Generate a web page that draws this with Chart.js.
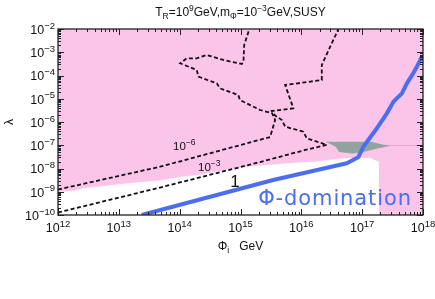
<!DOCTYPE html>
<html>
<head>
<meta charset="utf-8">
<script src="https://cdn.jsdelivr.net/npm/chart.js@4.4.0/dist/chart.umd.min.js"></script>
<style>
  html, body { margin: 0; padding: 0; background: #fff; }
  canvas { display: block; }
</style>
</head>
<body>
<canvas id="chart" width="435" height="299"></canvas>
<script>
'use strict';

// ── axes: decades of Φi (GeV) and λ
const phiDecades = [1e12, 1e13, 1e14, 1e15, 1e16, 1e17, 1e18];
const phiExp     = ['12', '13', '14', '15', '16', '17', '18'];
const lamDecades = [1e-10, 1e-9, 1e-8, 1e-7, 1e-6, 1e-5, 1e-4, 1e-3, 1e-2];
const lamExp     = ['−10', '−9', '−8', '−7', '−6', '−5', '−4', '−3', '−2'];

// ── Φ-domination boundary (blue)
const domPhi = [2.38e13, 3.44e15, 5.6e16, 8.6e16, 1.05e17, 1.26e17, 1.75e17, 2.55e17, 3.27e17, 4.5e17, 5.43e17, 6.9e17, 7.95e17, 9.6e17];
const domLam = [1e-10, 3.2e-9, 1.67e-8, 3.03e-8, 8.7e-8, 1.68e-7, 5.4e-7, 2.37e-6, 7.5e-6, 1.71e-5, 4.6e-5, 1.24e-4, 2.4e-4, 6.4e-4];

// ── contour 10^-6 (dashed)
const c6Phi = [1e12, 4.76e13, 3.07e15, 3.71e15, 3.31e15, 2.1e15, 9.8e14, 9.2e14, 4.6e14, 4.07e14, 2.03e14, 1.91e14, 1.02e14, 1.31e14, 1.91e14, 2.79e14, 5.24e14, 1.05e15, 1.12e15, 1.15e15, 1.4e15];
const c6Lam = [1.25e-9, 1.19e-8, 2.26e-7, 1.22e-6, 2.37e-6, 3.28e-6, 8.8e-6, 1.45e-5, 2.8e-5, 4.6e-5, 8.9e-5, 1.72e-4, 3.35e-4, 5.5e-4, 5.5e-4, 7.6e-4, 4.65e-4, 3.13e-4, 3.9e-4, 2.05e-3, 1e-2];

// ── contour 10^-3 (dashed)
const c3Phi = [1e12, 4.76e13, 2.1e15, 1.16e16, 2.62e16, 1.23e16, 1.08e16, 5.42e15, 4.78e15, 3.71e15, 3.27e15, 7.4e15, 5.42e15, 2.17e16, 2.17e16, 2.98e16, 4.07e16];
const c3Lam = [1.28e-10, 1.52e-9, 1.9e-8, 6.25e-8, 1.03e-7, 1.99e-7, 3.83e-7, 6.3e-7, 1.22e-6, 1.9e-6, 2.97e-6, 3.88e-6, 3.9e-5, 6.4e-5, 2.83e-4, 1.73e-3, 1e-2];

// ── allowed (white) region, upper edge
const whitePhi = [1e12, 1.9e12, 2.6e12, 4.9e12, 1.53e13, 4.76e13, 1.14e14, 2.17e14, 6.75e14, 1.44e15, 3.07e15, 6.55e15, 1.8e16, 2.98e16, 5.6e16, 1.35e17, 1.85e17, 1.85e17];
const whiteLam = [9.75e-10, 1.08e-9, 1.38e-9, 1.65e-9, 2.3e-9, 2.98e-9, 4.4e-9, 5.25e-9, 9.2e-9, 1.19e-8, 1.41e-8, 1.67e-8, 1.96e-8, 2.32e-8, 2.75e-8, 2.75e-8, 1.96e-8, 1e-10];

// ── gray patch: top and bottom edges
const grayTopPhi = [2.56e16, 1.41e17, 2.13e17, 2.89e17];
const grayTopLam = [1.42e-7, 1.42e-7, 1.08e-7, 9.75e-8];
const grayBotPhi = [2.56e16, 3.73e16, 4.19e16, 6.85e16, 1.0e17, 1.77e17, 2.89e17];
const grayBotLam = [1.42e-7, 8.7e-8, 5.3e-8, 4.5e-8, 5.13e-8, 7.4e-8, 9.75e-8];
const seamPhi = [2.89e17, 1e18];
const seamLam = [9.75e-8, 9.75e-8];

// ── in-plot labels (data coords)
const contourLabels = [
  { base: '10', exp: '−6', phi: 7.8e13, lam: 8.4e-8 },
  { base: '10', exp: '−3', phi: 2.0e14, lam: 1.05e-8 },
];

const PINK = '#fbc4e9';
const BLUE = '#4a6df2';
const SANS = '"Liberation Sans", Arial, sans-serif';

const pts = (xs, ys) => xs.map((x, i) => ({ x, y: ys[i] }));

function drawPow(ctx, base, exp, x, y, align, size, supSize, raise) {
  ctx.font = size + 'px ' + SANS;
  const wb = ctx.measureText(base).width;
  ctx.font = supSize + 'px ' + SANS;
  const we = ctx.measureText(exp).width;
  const left = align === 'right' ? x - wb - we : align === 'left' ? x : x - (wb + we) / 2;
  ctx.textAlign = 'left';
  ctx.textBaseline = 'middle';
  ctx.font = size + 'px ' + SANS;
  ctx.fillText(base, left, y);
  ctx.font = supSize + 'px ' + SANS;
  ctx.fillText(exp, left + wb, y - raise);
}

// rich text: segs = [[text, 'n'|'sup'|'sub'], ...]
function drawRich(ctx, segs, cx, y, size, small) {
  ctx.textAlign = 'left';
  ctx.textBaseline = 'alphabetic';
  let w = 0;
  segs.forEach(([t, k]) => { ctx.font = (k === 'n' ? size : small) + 'px ' + SANS; w += ctx.measureText(t).width; });
  let px = cx - w / 2;
  segs.forEach(([t, k]) => {
    ctx.font = (k === 'n' ? size : small) + 'px ' + SANS;
    const dy = k === 'sup' ? -5 : k === 'sub' ? 3 : 0;
    ctx.fillText(t, px, y + dy);
    px += ctx.measureText(t).width;
  });
}

const background = {
  id: 'background',
  beforeDraw(chart) {
    const { ctx, chartArea: a } = chart;
    ctx.save();
    ctx.fillStyle = '#fff';
    ctx.fillRect(0, 0, chart.width, chart.height);
    ctx.fillStyle = PINK;
    ctx.fillRect(a.left, a.top, a.right - a.left, a.bottom - a.top);
    ctx.restore();
  }
};

const frameAndText = {
  id: 'frameAndText',
  afterDraw(chart) {
    const { ctx, chartArea: a, scales: { x, y } } = chart;
    ctx.save();
    ctx.strokeStyle = '#222';
    ctx.fillStyle = '#111';
    ctx.lineWidth = 1;
    const seg = (x1, y1, x2, y2) => { ctx.beginPath(); ctx.moveTo(x1, y1); ctx.lineTo(x2, y2); ctx.stroke(); };

    // inward ticks on all four sides
    phiDecades.forEach(d => {
      for (let m = 1; m <= 9; m++) {
        const v = d * m;
        if (v > x.max * 1.0001) break;
        const px = Math.round(x.getPixelForValue(v)) + 0.5;
        const len = m === 1 ? 6 : 3;
        seg(px, a.bottom, px, a.bottom - len);
        seg(px, a.top, px, a.top + len);
      }
    });
    lamDecades.forEach(d => {
      for (let m = 1; m <= 9; m++) {
        const v = d * m;
        if (v > y.max * 1.0001) break;
        const py = Math.round(y.getPixelForValue(v)) + 0.5;
        const len = m === 1 ? 6 : 3;
        seg(a.left, py, a.left + len, py);
        seg(a.right, py, a.right - len, py);
      }
    });
    ctx.lineWidth = 1.3;
    ctx.strokeRect(a.left, a.top, a.right - a.left, a.bottom - a.top);

    // tick labels
    phiDecades.forEach((d, i) => {
      drawPow(ctx, '10', phiExp[i], x.getPixelForValue(d), a.bottom + 14, 'center', 12.5, 9.5, 4.5);
    });
    lamDecades.forEach((d, i) => {
      drawPow(ctx, '10', lamExp[i], a.left - 3, y.getPixelForValue(d) + 1.5, 'right', 12.5, 9.5, 4.5);
    });

    // titles
    drawRich(ctx, [['T', 'n'], ['R', 'sub'], ['=10', 'n'], ['9', 'sup'], ['GeV,m', 'n'], ['Φ', 'sub'], ['=10', 'n'], ['−3', 'sup'], ['GeV,SUSY', 'n']],
      (a.left + a.right) / 2, 16, 12, 8.5);
    drawRich(ctx, [['Φ', 'n'], ['i', 'sub'], ['   GeV', 'n']], (a.left + a.right) / 2, 250, 12, 8.5);
    ctx.save();
    ctx.translate(10, (a.top + a.bottom) / 2);
    ctx.rotate(-Math.PI / 2);
    ctx.font = '12px ' + SANS;
    ctx.textAlign = 'center';
    ctx.textBaseline = 'middle';
    ctx.fillText('λ', 0, 0);
    ctx.restore();

    // contour labels
    contourLabels.forEach(l => {
      drawPow(ctx, l.base, l.exp, x.getPixelForValue(l.phi), y.getPixelForValue(l.lam), 'left', 11.5, 8.5, 4.5);
    });
    ctx.font = '17px ' + SANS;
    ctx.textAlign = 'center';
    ctx.textBaseline = 'middle';
    ctx.fillText('1', x.getPixelForValue(8.1e14), y.getPixelForValue(2.6e-9));

    ctx.fillStyle = BLUE;
    ctx.font = '21px "DejaVu Sans", sans-serif';
    ctx.letterSpacing = '0.9px';
    ctx.textAlign = 'left';
    ctx.fillText('Φ-domination', x.getPixelForValue(1.95e15), y.getPixelForValue(4.4e-10));
    ctx.restore();
  }
};

const dashed = { borderColor: '#111', borderWidth: 1.8, borderDash: [4, 2.5], pointRadius: 0, showLine: true, fill: false };

new Chart(document.getElementById('chart'), {
  type: 'scatter',
  data: {
    datasets: [
      { label: 'Φ-domination', data: pts(domPhi, domLam), borderColor: BLUE, borderWidth: 4, borderJoinStyle: 'round', pointRadius: 0, showLine: true, fill: false, order: 0 },
      Object.assign({ label: '10^-6', data: pts(c6Phi, c6Lam), order: 1 }, dashed),
      Object.assign({ label: '10^-3', data: pts(c3Phi, c3Lam), order: 1 }, dashed),
      { label: 'seam', data: pts(seamPhi, seamLam), borderColor: 'rgba(215,160,195,0.7)', borderWidth: 1, pointRadius: 0, showLine: true, fill: false, order: 2 },
      { label: 'grayTop', data: pts(grayTopPhi, grayTopLam), borderColor: 'rgba(0,0,0,0)', borderWidth: 0, pointRadius: 0, showLine: true, fill: false, order: 3 },
      { label: 'grayBot', data: pts(grayBotPhi, grayBotLam), borderColor: '#91a39c', borderWidth: 0.5, backgroundColor: '#91a39c', pointRadius: 0, showLine: true, fill: '-1', order: 3 },
      { label: 'allowed', data: pts(whitePhi, whiteLam), borderColor: '#fff', borderWidth: 0.5, backgroundColor: '#fff', pointRadius: 0, showLine: true, fill: 'start', order: 4 },
    ]
  },
  options: {
    responsive: false,
    animation: false,
    layout: { padding: { top: 29, right: 12, left: 0, bottom: 0 } },
    plugins: { legend: { display: false }, title: { display: false }, tooltip: { enabled: false } },
    scales: {
      x: {
        type: 'logarithmic', min: 1e12, max: 1e18,
        grid: { display: false }, border: { display: false },
        ticks: { display: false },
        afterFit: s => { s.height = 84; }
      },
      y: {
        type: 'logarithmic', min: 1e-10, max: 1e-2,
        grid: { display: false }, border: { display: false },
        ticks: { display: false },
        afterFit: s => { s.width = 58; }
      }
    }
  },
  plugins: [background, frameAndText]
});
</script>
</body>
</html>
